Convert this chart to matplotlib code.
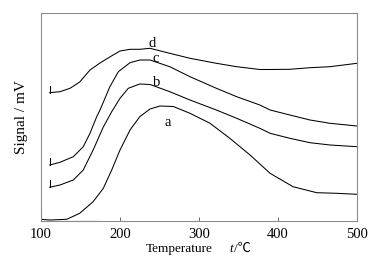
import numpy as np
import matplotlib.pyplot as plt

plt.rcParams['font.family'] = ['Liberation Serif', 'Noto Sans CJK SC']

# curve a
ta = [100, 111, 132.5, 149, 166, 178.9, 189.5, 200, 212.7, 225, 238, 250.6,
      267.5, 288.6, 314, 339, 364.6, 390, 419, 449, 474, 500]
sa = [1.7, 1, 1.7, 7.7, 19.3, 32.7, 51, 71, 91, 104.3, 112, 115,
      114.5, 107.7, 97.7, 82.7, 66, 47.7, 34.3, 28.3, 27.7, 26.7]
# curve b
tb = [111, 124, 140.9, 153.5, 166, 178.9, 189.5, 200, 210.5, 225, 238, 263,
      288.6, 322, 347.7, 377, 390, 415, 440.5, 465.8, 500]
sb = [33.7, 36, 41, 51, 71, 94, 109.3, 122.7, 132.7, 137, 136.5, 129.3,
      121, 111, 102.7, 92.7, 87.7, 82.7, 78.3, 76, 74.3]
# curve c
tc = [111, 124, 140.9, 153.5, 162, 170.5, 174.7, 187, 197.9, 212.7, 225, 238,
      263, 288.6, 322, 347.7, 377, 390, 415, 440.5, 465.8, 500]
sc = [56, 58.7, 64.3, 74.3, 87.7, 104.3, 111, 134, 149.3, 158.3, 161, 161,
      154.3, 144.3, 132.7, 124.3, 116, 111, 106, 101, 97.7, 95]
# curve d
td = [111, 124, 136.7, 149, 162, 174.7, 187, 200, 212.7, 225, 238, 263,
      288.6, 322, 347.7, 377, 390, 415, 440.5, 465.8, 500]
sd = [128.3, 129.3, 132.7, 139, 151, 158, 164, 170, 171.7, 171.7, 172.7, 167.7,
      162.7, 157.7, 154.3, 151.5, 151.5, 151.7, 153.3, 154.3, 157.7]

labels = ['a', 'b', 'c', 'd']
label_pos = [(260, 99), (247, 139), (245, 163), (241, 178)]

fig = plt.figure(figsize=(3.8, 2.64), dpi=100)
ax = fig.add_axes([41 / 380, 43 / 264, 316 / 380, 208 / 264])

for t, s in [(ta, sa), (tb, sb), (tc, sc), (td, sd)]:
    ax.plot(t, s, color='black', lw=0.75)
    # start marker
    ax.plot([t[0], t[0]], [s[0], s[0] + 7], color='black', lw=0.75)

# baseline segment of curve a
ax.plot([100, 172.5], [0.4, 0.4], color='#444444', lw=0.8)

for lab, (x, y) in zip(labels, label_pos):
    ax.text(x, y, lab, fontsize=10.5, ha='center', va='center')

ax.set_xlim(100, 500)
ax.set_ylim(0, 208)
ax.set_xticks([100, 200, 300, 400, 500])
ax.set_yticks([])
ax.tick_params(axis='x', direction='in', length=3, width=0.6, color='#555555',
               labelsize=10.5, pad=5)
for sp in ax.spines.values():
    sp.set_color('#8c8c8c')
    sp.set_linewidth(0.8)

ax.set_ylabel('Signal / mV', fontsize=11, labelpad=9)
fig.text(146 / 380, 1 - 249 / 264, 'Temperature', fontsize=9.5, ha='left', va='center')
fig.text(229 / 380, 1 - 249 / 264, 't', fontsize=9.5, style='italic', ha='left', va='center')
fig.text(234 / 380, 1 - 249 / 264, '/℃', fontsize=9.5, ha='left', va='center')

fig.savefig('out.png', dpi=100)
